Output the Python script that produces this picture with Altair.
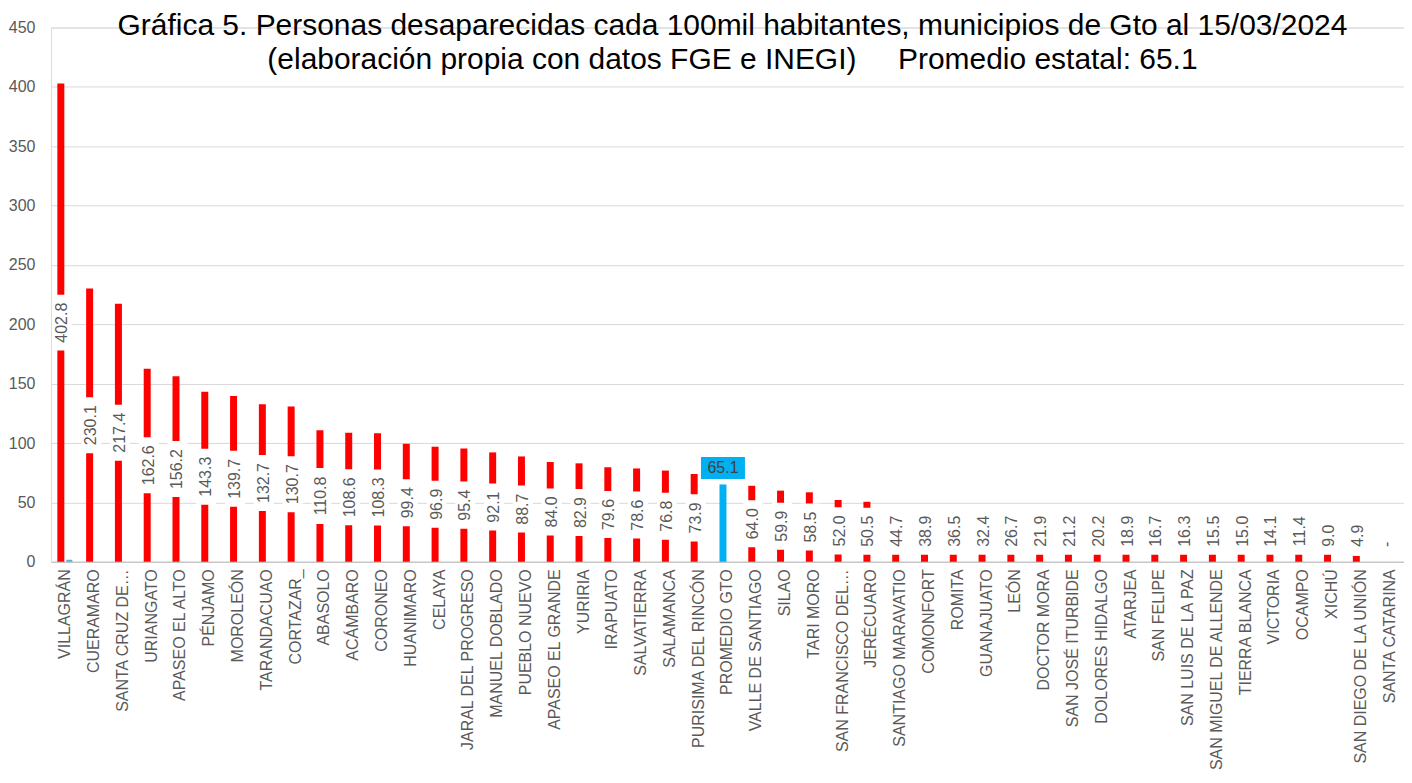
import altair as alt
import pandas as pd

# ---------------- data ----------------
municipios = [
    "VILLAGRÁN", "CUERAMARO", "SANTA CRUZ DE…", "URIANGATO", "APASEO EL ALTO",
    "PÉNJAMO", "MOROLEÓN", "TARANDACUAO", "CORTAZAR_", "ABASOLO", "ACÁMBARO",
    "CORONEO", "HUANIMARO", "CELAYA", "JARAL DEL PROGRESO", "MANUEL DOBLADO",
    "PUEBLO NUEVO", "APASEO EL GRANDE", "YURIRIA", "IRAPUATO", "SALVATIERRA",
    "SALAMANCA", "PURISIMA DEL RINCÓN", "PROMEDIO GTO", "VALLE DE SANTIAGO",
    "SILAO", "TARI MORO", "SAN FRANCISCO DEL…", "JERÉCUARO", "SANTIAGO MARAVATIO",
    "COMONFORT", "ROMITA", "GUANAJUATO", "LEÓN", "DOCTOR MORA",
    "SAN JOSÉ ITURBIDE", "DOLORES HIDALGO", "ATARJEA", "SAN FELIPE",
    "SAN LUIS DE LA PAZ", "SAN MIGUEL DE ALLENDE", "TIERRA BLANCA", "VICTORIA",
    "OCAMPO", "XICHÚ", "SAN DIEGO DE LA UNIÓN", "SANTA CATARINA",
]
tasas = [
    402.8, 230.1, 217.4, 162.6, 156.2, 143.3, 139.7, 132.7, 130.7, 110.8, 108.6,
    108.3, 99.4, 96.9, 95.4, 92.1, 88.7, 84.0, 82.9, 79.6, 78.6, 76.8, 73.9,
    65.1, 64.0, 59.9, 58.5, 52.0, 50.5, 44.7, 38.9, 36.5, 32.4, 26.7, 21.9,
    21.2, 20.2, 18.9, 16.7, 16.3, 15.5, 15.0, 14.1, 11.4, 9.0, 4.9, 0.0,
]
promedio = "PROMEDIO GTO"

# small second series visible at the first category
serie2_municipios = ["VILLAGRÁN"]
serie2_valores = [1.7]

titulo = [
    "Gráfica 5. Personas desaparecidas cada 100mil habitantes, municipios de Gto al 15/03/2024",
    "(elaboración propia con datos FGE e INEGI)\u00a0\u00a0\u00a0\u00a0\u00a0Promedio estatal: 65.1",
]

df = pd.DataFrame({"municipio": municipios, "tasa": tasas})
df2 = pd.DataFrame({"municipio": serie2_municipios, "valor": serie2_valores})

W, H = 1355, 535
YMAX = 450
PX = H / YMAX  # pixels per unit

FONT = "Liberation Sans"
GRAY = "#595959"
RED = "#ff0000"
BLUE = "#00b0f0"

xenc = alt.X(
    "municipio:N",
    sort=municipios,
    scale=alt.Scale(paddingInner=0, paddingOuter=0),
    axis=alt.Axis(
        title=None, labelAngle=270, labelFontSize=16, labelColor=GRAY,
        labelFont=FONT, ticks=False, domainColor="#bfbfbf", labelPadding=7,
        labelLimit=210, grid=False,
    ),
)
yscale = alt.Scale(domain=[0, YMAX], nice=False)
yaxis = alt.Axis(
    title=None, values=list(range(0, YMAX + 1, 50)), ticks=False, domain=False,
    labelFontSize=16, labelColor=GRAY, labelFont=FONT, labelPadding=16,
    gridColor="#d9d9d9", gridWidth=1,
)

base = alt.Chart(df)

bars = base.mark_bar(width=7, xOffset=-4.5).encode(
    x=xenc,
    y=alt.Y("tasa:Q", scale=yscale, axis=yaxis),
    color=alt.condition(alt.datum.municipio == promedio, alt.value(BLUE), alt.value(RED)),
)

aux = alt.Chart(df2).mark_bar(width=6, xOffset=4, color="#5aaed8").encode(
    x=alt.X("municipio:N", sort=municipios),
    y=alt.Y("valor:Q", scale=yscale),
)

lab = base.transform_filter(alt.datum.municipio != promedio).transform_calculate(
    lbl="datum.tasa == 0 ? '-' : format(datum.tasa, '.1f')"
).transform_calculate(
    tlen="datum.tasa == 0 ? 5 : (length(datum.lbl) - 1) * 8.9 + 4.4"
).transform_calculate(
    box="datum.tlen + 16"
).transform_calculate(
    c=f"max(datum.tasa / 2, (7 + datum.box / 2) / {PX})"
).transform_calculate(
    lo=f"datum.c - datum.box / 2 / {PX}",
    hi=f"datum.c + datum.box / 2 / {PX}",
)

boxes = lab.mark_bar(width=20, xOffset=-3, color="white").encode(
    x=alt.X("municipio:N", sort=municipios),
    y=alt.Y("lo:Q", scale=yscale),
    y2="hi:Q",
)
texts = lab.mark_text(
    angle=270, fontSize=16, color=GRAY, font=FONT, xOffset=-3,
    align="center", baseline="middle",
).encode(
    x=alt.X("municipio:N", sort=municipios),
    y=alt.Y("c:Q", scale=yscale),
    text="lbl:N",
)

prom = base.transform_filter(alt.datum.municipio == promedio).transform_calculate(
    lbl="format(datum.tasa, '.1f')",
    blo=f"datum.tasa + 5.6 / {PX}",
    bhi=f"datum.tasa + 27.6 / {PX}",
).transform_calculate(
    bc="(datum.blo + datum.bhi) / 2"
)
pbox = prom.mark_bar(width=44, xOffset=-4.5, color=BLUE).encode(
    x=alt.X("municipio:N", sort=municipios),
    y=alt.Y("blo:Q", scale=yscale),
    y2="bhi:Q",
)
ptext = prom.mark_text(fontSize=16, color="#404040", font=FONT, xOffset=-4.5,
                       align="center", baseline="middle").encode(
    x=alt.X("municipio:N", sort=municipios),
    y=alt.Y("bc:Q", scale=yscale),
    text="lbl:N",
)

chart = alt.layer(bars, aux, boxes, texts, pbox, ptext).properties(
    width=W, height=H,
    padding={"left": 0, "top": 2, "right": 0, "bottom": 0},
    title=alt.Title(
        text=titulo, fontSize=30, font=FONT, fontWeight="normal", color="#000000",
        anchor="middle", offset=-56, lineHeight=35, dx=5,
    ),
).configure_view(stroke="#a9cfea", strokeWidth=1).configure(font=FONT)

chart.save("out.html", embed_options={"renderer": "svg", "actions": False})
